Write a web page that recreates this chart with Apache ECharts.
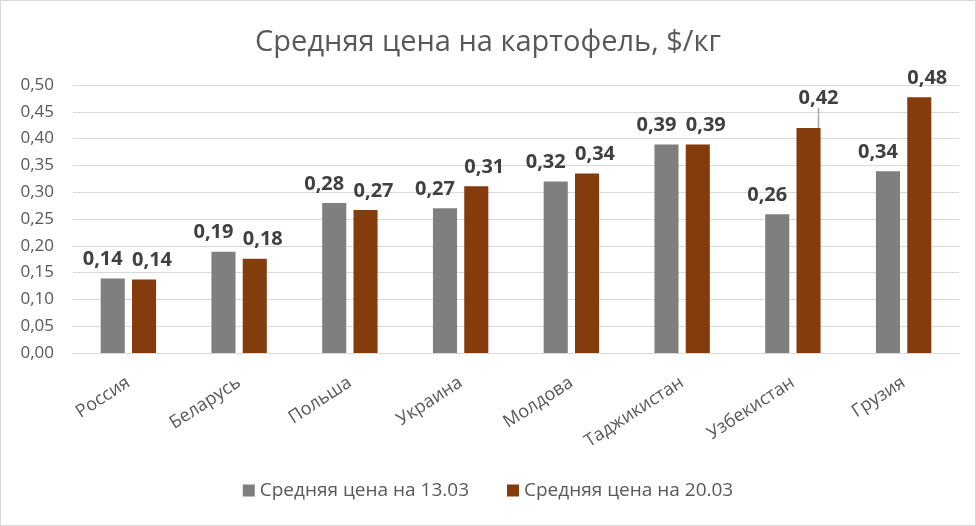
<!DOCTYPE html>
<html><head><meta charset="utf-8">
<script src="https://cdn.jsdelivr.net/npm/echarts@6/dist/echarts.min.js"></script>
<style>html,body{margin:0;padding:0;background:#fff}#c{width:974px;height:524px;border:1px solid #d9d9d9}</style>
</head><body><div id="c"></div>
<script>
const categories = ['Россия','Беларусь','Польша','Украина','Молдова','Таджикистан','Узбекистан','Грузия'];
const series1Name = 'Средняя цена на 13.03';
const series2Name = 'Средняя цена на 20.03';
const series1 = [0.139, 0.189, 0.280, 0.270, 0.320, 0.389, 0.259, 0.339];
const series2 = [0.137, 0.176, 0.267, 0.311, 0.335, 0.389, 0.420, 0.477];
const yTicks = {min: 0, max: 0.5, interval: 0.05};
const leaderIndex = 6;

const font = 'Open Sans, Noto Sans, sans-serif';
const fmt = v => v.toFixed(2).replace('.', ',');
const chart = echarts.init(document.getElementById('c'));
const labelCommon = {show: true, position: 'top', distance: 9, fontFamily: font, fontSize: 20, fontWeight: 'bold', color: '#404040',
  formatter: p => fmt(p.value)};
chart.setOption({
  animation: false,
  title: {text: 'Средняя цена на картофель, $/кг', left: 'center', top: 22,
    textStyle: {fontFamily: font, fontSize: 29, fontWeight: 'normal', color: '#595959'}},
  legend: {bottom: 20, left: 'center', itemWidth: 12, itemHeight: 12, itemGap: 38, icon: 'rect',
    textStyle: {fontFamily: font, fontSize: 19, color: '#595959'}},
  grid: {left: 72, right: 16, top: 84, bottom: 172},
  xAxis: {type: 'category', data: categories,
    axisLine: {show: true, lineStyle: {color: '#d9d9d9'}}, axisTick: {show: false},
    axisLabel: {rotate: 33, margin: 28, fontFamily: font, fontSize: 18, color: '#595959', interval: 0}},
  yAxis: {type: 'value', min: yTicks.min, max: yTicks.max, interval: yTicks.interval,
    axisLine: {show: false}, axisTick: {show: false},
    splitLine: {lineStyle: {color: '#d9d9d9', width: 1}},
    axisLabel: {margin: 19, fontFamily: font, fontSize: 17, color: '#595959', formatter: v => fmt(v)}},
  series: [
    {name: series1Name, type: 'bar', data: series1, barGap: '30%', barCategoryGap: '50%',
      itemStyle: {color: '#7f7f7f'}, label: labelCommon,
      labelLine: {show: false},
      labelLayout: () => ({dx: -10})},
    {name: series2Name, type: 'bar',
      data: series2.map((v, i) => i === leaderIndex ? {value: v, labelLine: {show: true}} : v),
      itemStyle: {color: '#843c0c'}, label: labelCommon,
      labelLine: {show: false, lineStyle: {color: '#a6a6a6', width: 1.5}},
      labelLayout: p => p.dataIndex === leaderIndex ? {dx: 10, dy: -11} : {dx: 8}}
  ]
});
</script></body></html>
